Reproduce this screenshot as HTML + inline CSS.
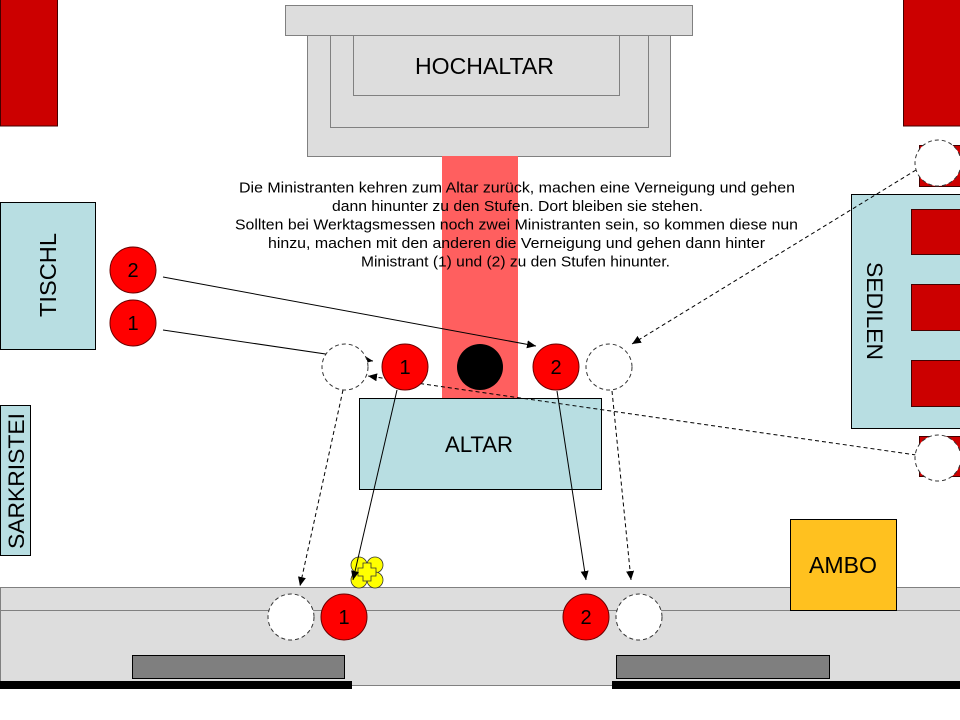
<!DOCTYPE html>
<html>
<head>
<meta charset="utf-8">
<style>
  html,body{margin:0;padding:0;background:#fff;}
  svg{display:block;}
  text{font-family:"Liberation Sans", Arial, sans-serif;}
</style>
</head>
<body>
<svg width="960" height="720" viewBox="0 0 960 720" xmlns="http://www.w3.org/2000/svg">
  <defs>
    <marker id="a" markerWidth="10" markerHeight="8" refX="9" refY="4" orient="auto" markerUnits="userSpaceOnUse">
      <path d="M0,0 L9,4 L0,8 z" fill="#000"/>
    </marker>
  </defs>

  <rect x="0" y="0" width="960" height="720" fill="#fff"/>

  <!-- top red blocks -->
  <rect x="0.5" y="-1" width="57" height="127" fill="#cc0000" stroke="#400" stroke-width="1"/>
  <rect x="903.5" y="-1" width="60" height="127" fill="#cc0000" stroke="#400" stroke-width="1"/>

  <!-- Hochaltar -->
  <rect x="307.5" y="35.5" width="363" height="121" fill="#dddddd" stroke="#808080"/>
  <rect x="330.5" y="35.5" width="318" height="92" fill="#dddddd" stroke="#808080"/>
  <rect x="353.5" y="35.5" width="266" height="60" fill="#dddddd" stroke="#808080"/>
  <rect x="285.5" y="5.5" width="407" height="30" fill="#dddddd" stroke="#808080"/>
  <text x="415" y="74" font-size="23" textLength="139" lengthAdjust="spacingAndGlyphs" fill="#000">HOCHALTAR</text>

  <!-- red band -->
  <rect x="442" y="156" width="76" height="242" fill="#ff5f5f"/>

  <!-- Tischl -->
  <rect x="0.5" y="202.5" width="95" height="147" fill="#b8dee2" stroke="#000"/>
  <text transform="translate(56,317) rotate(-90)" x="0" y="0" font-size="23" textLength="84" lengthAdjust="spacingAndGlyphs" fill="#000">TISCHL</text>

  <!-- Sarkristei -->
  <rect x="0.5" y="405.5" width="30" height="150" fill="#b8dee2" stroke="#000"/>
  <text transform="translate(24,549) rotate(-90)" x="0" y="0" font-size="22" textLength="136" lengthAdjust="spacingAndGlyphs" fill="#000">SARKRISTEI</text>

  <!-- Sedilen -->
  <rect x="919.5" y="145.5" width="45" height="41" fill="#cc0000" stroke="#400"/>
  <rect x="919.5" y="436.5" width="45" height="40" fill="#cc0000" stroke="#400"/>
  <rect x="851.5" y="194.5" width="112" height="234" fill="#b8dee2" stroke="#000"/>
  <rect x="911.5" y="209.5" width="53" height="45" fill="#cc0000" stroke="#400"/>
  <rect x="911.5" y="284.5" width="53" height="46" fill="#cc0000" stroke="#400"/>
  <rect x="911.5" y="360.5" width="53" height="46" fill="#cc0000" stroke="#400"/>
  <text transform="translate(867,262) rotate(90)" x="0" y="0" font-size="22" textLength="98" lengthAdjust="spacingAndGlyphs" fill="#000">SEDILEN</text>

  <!-- Altar -->
  <rect x="359.5" y="398.5" width="242" height="91" fill="#b8dee2" stroke="#000"/>
  <text x="445" y="452" font-size="22" textLength="68" lengthAdjust="spacingAndGlyphs" fill="#000">ALTAR</text>

  <!-- bottom steps -->
  <rect x="0.5" y="587.5" width="962" height="98" fill="#dddddd" stroke="#808080"/>
  <line x1="0" y1="610.5" x2="960" y2="610.5" stroke="#808080"/>
  <rect x="132.5" y="655.5" width="212" height="23" fill="#7f7f7f" stroke="#000"/>
  <rect x="616.5" y="655.5" width="213" height="23" fill="#7f7f7f" stroke="#000"/>
  <rect x="0" y="681" width="352" height="8" fill="#000"/>
  <rect x="612" y="681" width="348" height="8" fill="#000"/>

  <!-- Ambo -->
  <rect x="790.5" y="519.5" width="106" height="91" fill="#ffc11f" stroke="#000"/>
  <text x="809" y="573" font-size="23" textLength="68" lengthAdjust="spacingAndGlyphs" fill="#000">AMBO</text>

  <!-- yellow thing -->
  <g fill="#ffff00" stroke="#333" stroke-width="0.8">
    <circle cx="359" cy="565" r="8"/>
    <circle cx="375" cy="565" r="8"/>
    <circle cx="359" cy="580" r="8"/>
    <circle cx="375" cy="580" r="8"/>
    <polygon points="363,563 371,563 371,568 376,568 376,576 371,576 371,581 363,581 363,576 358,576 358,568 363,568"/>
  </g>

  <!-- solid arrows -->
  <g stroke="#000" stroke-width="1" fill="none">
    <line x1="163" y1="277" x2="536" y2="346" marker-end="url(#a)"/>
    <line x1="163" y1="330" x2="373" y2="361" marker-end="url(#a)"/>
    <line x1="397" y1="390" x2="353" y2="580" marker-end="url(#a)"/>
    <line x1="557" y1="391" x2="586" y2="580" marker-end="url(#a)"/>
  </g>
  <!-- dashed arrows -->
  <g stroke="#000" stroke-width="1" fill="none" stroke-dasharray="4 3">
    <line x1="343" y1="390" x2="300" y2="586" marker-end="url(#a)"/>
    <line x1="612" y1="391" x2="631" y2="580" marker-end="url(#a)"/>
    <line x1="916" y1="170" x2="632" y2="344" marker-end="url(#a)"/>
    <line x1="916" y1="455" x2="368" y2="376" marker-end="url(#a)"/>
  </g>

  <!-- dashed circles -->
  <g fill="#fff" stroke="#333" stroke-width="1" stroke-dasharray="4 3">
    <circle cx="345" cy="367" r="23"/>
    <circle cx="609" cy="367" r="23"/>
    <circle cx="938" cy="163" r="23"/>
    <circle cx="938" cy="458" r="23"/>
    <circle cx="291" cy="617" r="23"/>
    <circle cx="639" cy="617" r="23"/>
  </g>

  <!-- red circles -->
  <g fill="#ff0000" stroke="#6a0000" stroke-width="1">
    <circle cx="133" cy="270" r="23"/>
    <circle cx="133" cy="323" r="23"/>
    <circle cx="405" cy="367" r="23"/>
    <circle cx="556" cy="367" r="23"/>
    <circle cx="344" cy="617" r="23"/>
    <circle cx="586" cy="617" r="23"/>
  </g>
  <circle cx="480" cy="367" r="23" fill="#000"/>
  <g font-size="20" text-anchor="middle" fill="#000">
    <text x="133" y="277">2</text>
    <text x="133" y="330">1</text>
    <text x="405" y="374">1</text>
    <text x="556" y="374">2</text>
    <text x="344" y="624">1</text>
    <text x="586" y="624">2</text>
  </g>

  <!-- description text -->
  <g font-size="15" fill="#000">
    <text x="239" y="192.5" textLength="556" lengthAdjust="spacingAndGlyphs">Die Ministranten  kehren zum Altar zurück,  machen eine Verneigung und gehen</text>
    <text x="332" y="211" textLength="371" lengthAdjust="spacingAndGlyphs">dann hinunter  zu den Stufen.  Dort bleiben sie stehen.</text>
    <text x="235" y="229.5" textLength="563" lengthAdjust="spacingAndGlyphs">Sollten bei Werktagsmessen noch zwei  Ministranten  sein, so kommen diese nun</text>
    <text x="268" y="248" textLength="497" lengthAdjust="spacingAndGlyphs">hinzu,  machen mit den anderen die Verneigung und gehen dann hinter</text>
    <text x="361" y="266.5" textLength="309" lengthAdjust="spacingAndGlyphs">Ministrant  (1) und (2) zu den Stufen  hinunter.</text>
  </g>
</svg>
</body>
</html>
